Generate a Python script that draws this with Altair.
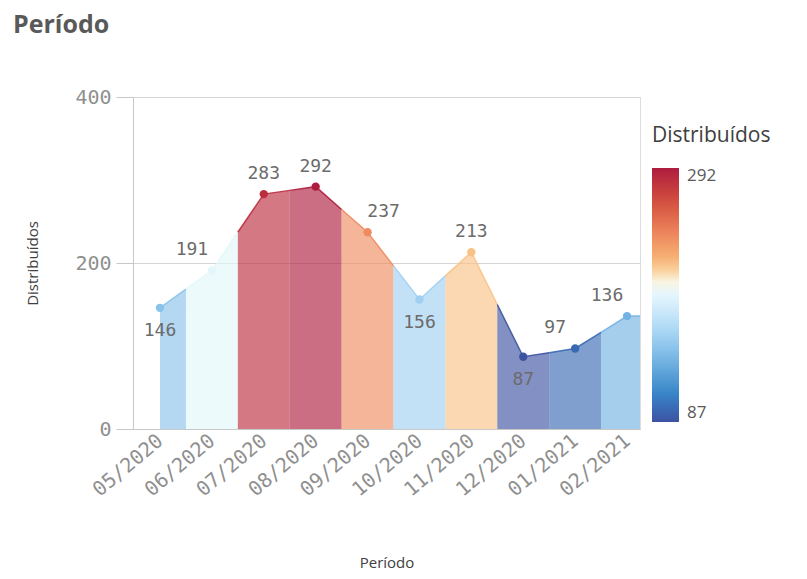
import json
import pandas as pd
import altair as alt

periods = ["05/2020", "06/2020", "07/2020", "08/2020", "09/2020",
           "10/2020", "11/2020", "12/2020", "01/2021", "02/2021"]
values = [146, 191, 283, 292, 237, 156, 213, 87, 97, 136]

# diverging palette (blue -> pale -> red) and where each stop sits in the value range
stop_fracs = [0.0, 0.12, 0.25, 0.38, 0.50, 0.555, 0.62, 0.74, 0.87, 1.0]
stop_colors = ["#3D52A1", "#3A89C9", "#77B7E5", "#B4DDF7", "#E6F5FE", "#FDF4E2",
               "#F9BD7E", "#ED875E", "#D24D3E", "#AE1C3E"]

X_MIN, X_MAX = -0.52, 9.25
n = len(values)
vmin, vmax = min(values), max(values)

# label placement: below local minima, otherwise above; nudged away from a steep line
place = []
for i, v in enumerate(values):
    prev_v = values[i - 1] if i > 0 else None
    next_v = values[i + 1] if i < n - 1 else None
    is_min = (prev_v is None or v < prev_v) and (next_v is None or v < next_v)
    if is_min:
        place.append("below")
    elif next_v is None or next_v - v > 30:
        place.append("left")
    elif prev_v is not None and prev_v - v > 30:
        place.append("right")
    else:
        place.append("above")

pts = pd.DataFrame({
    "idx": list(range(n)),
    "Período": periods,
    "Distribuídos": values,
    "place": place,
})

# area segments, one coloured band per period (boundaries at midpoints)
rows = []
for i, v in enumerate(values):
    seg = []
    if i > 0:
        seg.append((i - 0.5, (values[i - 1] + v) / 2))
    seg.append((i, v))
    if i < n - 1:
        seg.append((i + 0.5, (values[i + 1] + v) / 2))
    else:
        seg.append((X_MAX, v))
    for x, y in seg:
        rows.append({"seg": i, "x": x, "y": y, "Distribuídos": v})
segs = pd.DataFrame(rows)

color_scale = alt.Scale(type="linear",
                        domain=[vmin + f * (vmax - vmin) for f in stop_fracs],
                        range=stop_colors)

label_expr = json.dumps(periods) + "[datum.value]"

xscale = alt.Scale(domain=[X_MIN, X_MAX], nice=False, zero=False)
yscale = alt.Scale(domain=[0, 400], nice=False)

MONO = "DejaVu Sans Mono"

x_axis = alt.Axis(values=list(range(n)), labelExpr=label_expr, labelAngle=-40,
                  labelAlign="right", labelBaseline="middle", labelFont=MONO,
                  labelFontSize=20, labelColor="#8f8f8f", ticks=False, grid=False,
                  labelOverlap=False,
                  domainColor="#c8c8c8", title="Período", titleFont="Open Sans",
                  titleFontSize=15, titleFontWeight="normal", titleColor="#404040",
                  titlePadding=56, labelPadding=9)
y_axis = alt.Axis(values=[0, 200, 400], labelFont=MONO, labelFontSize=20,
                  labelColor="#8f8f8f", tickSize=17, tickColor="#c8c8c8",
                  domainColor="#c8c8c8", gridColor="#d4d4d4", grid=True,
                  title="Distribuídos", titleFont="Open Sans", titleFontSize=15,
                  titleFontWeight="normal", titleColor="#404040", titlePadding=34,
                  labelPadding=5)

legend = alt.Legend(type="gradient", orient="none", legendX=519, legendY=28,
                    values=[vmin, vmax],
                    title="Distribuídos", titleFont="Open Sans", titleFontSize=21,
                    titleFontWeight="normal", titleColor="#404040", titlePadding=22,
                    labelFont="Open Sans", labelFontSize=17, labelColor="#595959",
                    gradientLength=254, gradientThickness=27, labelOffset=8,
                    gradientStrokeWidth=0, gradientOpacity=1, direction="vertical")

area = alt.Chart(segs).mark_area(opacity=0.64, interpolate="linear").encode(
    x=alt.X("x:Q", scale=xscale, axis=x_axis),
    y=alt.Y("y:Q", scale=yscale, axis=y_axis, stack=None),
    color=alt.Color("Distribuídos:Q", scale=color_scale, legend=None),
    detail="seg:N",
)

line = alt.Chart(segs).mark_line(strokeWidth=1.5, opacity=0.9).encode(
    x=alt.X("x:Q", scale=xscale),
    y=alt.Y("y:Q", scale=yscale),
    color=alt.Color("Distribuídos:Q", scale=color_scale, legend=None),
    detail="seg:N",
)

points = alt.Chart(pts).mark_circle(size=70, opacity=1).encode(
    x=alt.X("idx:Q", scale=xscale),
    y=alt.Y("Distribuídos:Q", scale=yscale),
    color=alt.Color("Distribuídos:Q", scale=color_scale, legend=legend),
)

text_common = dict(font=MONO, fontSize=18, color="#6b6b6b")


def label_layer(where, dx, dy):
    return alt.Chart(pts).transform_filter(
        alt.datum.place == where
    ).mark_text(dx=dx, dy=dy, **text_common).encode(
        x=alt.X("idx:Q", scale=xscale),
        y=alt.Y("Distribuídos:Q", scale=yscale),
        text="Distribuídos:Q",
    )


labels = [
    label_layer("above", 0, -20),
    label_layer("left", -20, -20),
    label_layer("right", 16, -20),
    label_layer("below", 0, 23),
]

chart = alt.layer(area, line, points, *labels).resolve_legend(
    color="independent"
).properties(
    width=507, height=332,
    title=alt.TitleParams(text="Período", anchor="start", fontSize=25,
                          fontWeight="bold", color="#595959", font="Open Sans",
                          frame="group", dx=-120, offset=49),
    autosize=alt.AutoSizeParams(type="none"),
    padding={"left": 125, "top": 89, "right": 159, "bottom": 142},
).configure_view(stroke=None).configure(background="white")

chart.save("out.html", embed_options={"renderer": "svg", "actions": False})
